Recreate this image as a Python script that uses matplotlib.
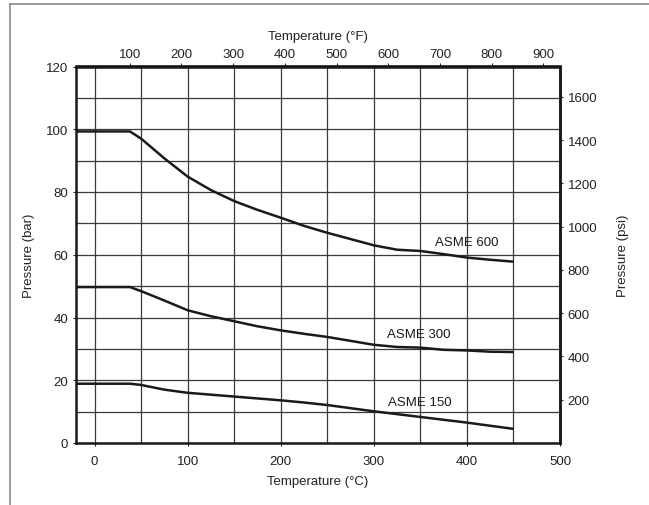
import matplotlib
matplotlib.use("Agg")
import matplotlib.pyplot as plt
from matplotlib.lines import Line2D
import numpy as np

plt.rcParams['font.family'] = ['Liberation Sans', 'DejaVu Sans']

temp_c = [-20, 38, 50, 75, 100, 125, 150, 175, 200, 225, 250, 300, 325, 350, 375, 400, 425, 450]
asme600 = [99.3, 99.3, 97.0, 90.7, 84.9, 80.6, 77.1, 74.3, 71.8, 69.2, 67.0, 63.0, 61.6, 61.2, 60.2, 59.1, 58.4, 57.8]
asme300 = [49.7, 49.7, 48.4, 45.4, 42.3, 40.4, 38.8, 37.2, 35.9, 34.8, 33.8, 31.3, 30.6, 30.4, 29.7, 29.5, 29.1, 29.0]
asme150 = [18.9, 18.9, 18.5, 17.0, 16.0, 15.4, 14.8, 14.2, 13.6, 12.9, 12.1, 10.1, 9.2, 8.3, 7.4, 6.5, 5.5, 4.5]
series_labels = ["ASME 600", "ASME 300", "ASME 150"]
label_pos = [(400, 64.0), (348, 34.8), (349, 13.2)]

x_ticks_c = [0, 100, 200, 300, 400, 500]
y_ticks_bar = [0, 20, 40, 60, 80, 100, 120]
x_ticks_f = [100, 200, 300, 400, 500, 600, 700, 800, 900]
y_ticks_psi = [200, 400, 600, 800, 1000, 1200, 1400, 1600]

BAR_TO_PSI = 14.5038

fig = plt.figure(figsize=(6.49, 5.06), dpi=100)
ax = fig.add_axes([76/649, 1-444/506, (560-76)/649, (444-67.5)/506])

ax.set_xlim(-20, 500)
ax.set_ylim(0, 120)
ax.set_xticks(x_ticks_c)
ax.set_yticks(y_ticks_bar)
ax.set_xticks(np.arange(0, 500, 50), minor=True)
ax.set_yticks(np.arange(0, 121, 10), minor=True)
ax.grid(True, which='both', color='#3a3a3a', lw=0.9)
ax.set_axisbelow(True)

for s in ax.spines.values():
    s.set_linewidth(1.8)
    s.set_color('#1a1a1a')

ax.tick_params(axis='both', which='major', direction='out', length=2.5, width=0.8,
               labelsize=9.5, colors='#222222')
ax.tick_params(axis='x', which='major', pad=6)
ax.tick_params(axis='y', which='major', pad=3)
ax.tick_params(axis='both', which='minor', length=0)

for vals in [asme600, asme300, asme150]:
    ax.plot(temp_c, vals, color='#1a1a1a', lw=1.8, solid_capstyle='butt',
            solid_joinstyle='round', zorder=3)

for lab, (tx, ty) in zip(series_labels, label_pos):
    ax.text(tx, ty, lab, ha='center', va='center', fontsize=9.5, color='#1a1a1a', zorder=4)

ax.set_xlabel("Temperature (°C)", fontsize=9.5, labelpad=6, color='#222222')
ax.set_ylabel("Pressure (bar)", fontsize=9.5, labelpad=8, color='#222222')

# top axis (°F)
secx = ax.secondary_xaxis('top', functions=(lambda c: c * 9 / 5 + 32, lambda f: (f - 32) * 5 / 9))
secx.set_xticks(x_ticks_f)
secx.tick_params(direction='out', length=2.5, width=0.8, labelsize=9.5, colors='#222222', pad=2)
secx.set_xlabel("Temperature (°F)", fontsize=9.5, labelpad=7, color='#222222')
secx.spines['top'].set_linewidth(1.8)

# right axis (psi)
secy = ax.secondary_yaxis('right', functions=(lambda b: b * BAR_TO_PSI, lambda p: p / BAR_TO_PSI))
secy.set_yticks(y_ticks_psi)
secy.tick_params(direction='out', length=2.5, width=0.8, labelsize=9.5, colors='#222222', pad=3)
secy.set_ylabel("Pressure (psi)", fontsize=9.5, labelpad=14, color='#222222')
secy.spines['right'].set_linewidth(1.8)

# outer frame
fig.add_artist(Line2D([10/649, 10/649], [0, 1-5/506], transform=fig.transFigure, color='#8a8a8a', lw=1.2))
fig.add_artist(Line2D([10/649, 1], [1-5/506, 1-5/506], transform=fig.transFigure, color='#8a8a8a', lw=1.2))

fig.savefig("out.png", dpi=100)
